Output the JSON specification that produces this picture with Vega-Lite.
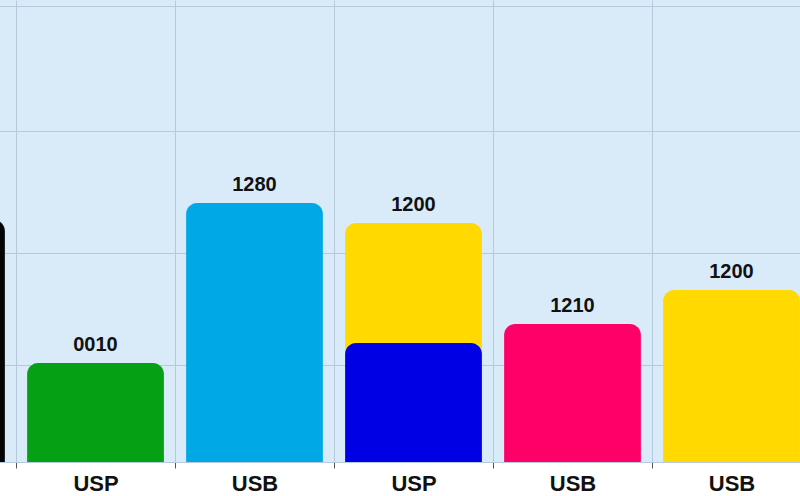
{
  "$schema": "https://vega.github.io/schema/vega-lite/v6.json",
  "width": 800,
  "height": 462,
  "autosize": {"type": "none"},
  "padding": {"left": 0, "top": 0, "right": 0, "bottom": 34},
  "background": "#ffffff",
  "config": {
    "view": {"fill": "#d9eaf8", "stroke": null},
    "font": "Liberation Sans"
  },
  "data": {
    "values": [
      {"cat": "1", "series": "Black", "value": 242, "label": ""},
      {"cat": "2", "series": "Green", "value": 99, "label": "0010"},
      {"cat": "3", "series": "Sky", "value": 259, "label": "1280"},
      {"cat": "4", "series": "Yellow", "value": 239, "label": "1200"},
      {"cat": "4", "series": "Blue", "value": 119, "label": ""},
      {"cat": "5", "series": "Pink", "value": 138, "label": "1210"},
      {"cat": "6", "series": "Yellow", "value": 172, "label": "1200"}
    ]
  },
  "encoding": {
    "x": {
      "field": "cat",
      "type": "nominal",
      "sort": null,
      "scale": {"range": [-143, 811], "paddingInner": 0, "paddingOuter": 0},
      "axis": {
        "title": null,
        "grid": true,
        "gridColor": "#b7c9dc",
        "gridWidth": 1,
        "tickBand": "extent",
        "ticks": true,
        "tickSize": 6,
        "tickColor": "#555555",
        "domain": true,
        "domainColor": "#b7c9dc",
        "labelAngle": 0,
        "labelFont": "Liberation Sans",
        "labelFontSize": 22,
        "labelFontWeight": "bold",
        "labelColor": "#111111",
        "labelPadding": 5,
        "labelExpr": "{'1':'','2':'USP','3':'USB','4':'USP','5':'USB','6':'USB'}[datum.value]"
      }
    },
    "y": {
      "field": "value",
      "type": "quantitative",
      "stack": null,
      "scale": {"domain": [0, 462], "nice": false},
      "axis": {
        "title": null,
        "values": [97, 209, 331, 456],
        "grid": true,
        "gridColor": "#b7c9dc",
        "gridWidth": 1,
        "labels": false,
        "ticks": false,
        "domain": false
      }
    }
  },
  "layer": [
    {
      "mark": {"type": "bar", "cornerRadiusEnd": 11, "width": {"band": 0.86}},
      "encoding": {
        "color": {
          "field": "series",
          "type": "nominal",
          "legend": null,
          "scale": {
            "domain": ["Black", "Green", "Sky", "Yellow", "Blue", "Pink"],
            "range": ["#050505", "#05a014", "#00a9e6", "#ffd900", "#0000e4", "#ff0068"]
          }
        }
      }
    },
    {
      "mark": {"type": "text", "baseline": "middle", "dy": -18, "fontSize": 20, "fontWeight": "bold", "color": "#111111", "font": "Liberation Sans"},
      "encoding": {
        "text": {"field": "label"}
      }
    }
  ]
}
